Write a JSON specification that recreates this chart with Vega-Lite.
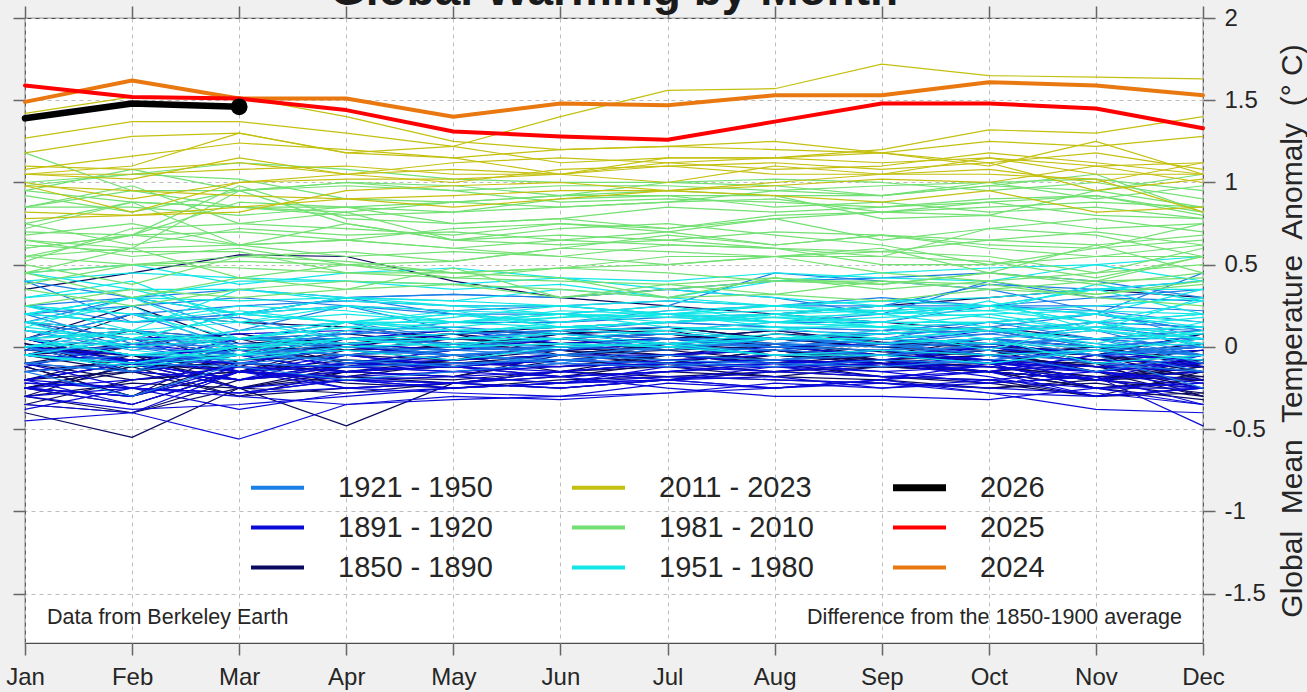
{
"$schema":"https://vega.github.io/schema/vega-lite/v6.json",
"autosize":{"type":"none"},
"padding":{"left":25,"top":18,"right":104,"bottom":49},
"width":1178,"height":625,
"background":"#f0f0f0",
"config":{"view":{"stroke":"#4d4d4d","strokeWidth":1.2,"fill":"#ffffff"},"font":"Liberation Sans"},
"datasets":{"t":[
{"yr":1850,"g":"1850 - 1890","v":[-0.25,-0.12,-0.30,-0.15,-0.18,-0.08,-0.05,-0.02,-0.10,-0.15,-0.20,-0.12]},
{"yr":1851,"g":"1850 - 1890","v":[-0.05,0.02,0.08,-0.02,0.05,0.10,0.00,0.05,0.08,0.12,0.05,0.10]},
{"yr":1852,"g":"1850 - 1890","v":[0.02,-0.08,-0.05,0.05,0.10,0.08,0.12,0.05,0.00,0.02,-0.05,0.08]},
{"yr":1853,"g":"1850 - 1890","v":[0.05,-0.10,-0.15,-0.02,0.00,0.05,0.08,0.02,-0.03,-0.05,-0.12,-0.08]},
{"yr":1854,"g":"1850 - 1890","v":[-0.10,0.00,0.05,0.08,0.02,-0.02,0.05,0.10,0.03,0.00,-0.08,-0.02]},
{"yr":1855,"g":"1850 - 1890","v":[0.00,-0.15,-0.08,0.02,0.05,0.00,-0.02,0.08,0.05,0.00,-0.05,-0.20]},
{"yr":1856,"g":"1850 - 1890","v":[-0.15,-0.08,-0.20,-0.12,-0.05,-0.02,-0.10,-0.08,-0.12,-0.15,-0.20,-0.10]},
{"yr":1857,"g":"1850 - 1890","v":[-0.20,-0.10,-0.25,-0.18,-0.22,-0.15,-0.05,-0.10,-0.18,-0.20,-0.30,-0.15]},
{"yr":1858,"g":"1850 - 1890","v":[-0.12,-0.30,-0.08,-0.05,0.00,-0.02,-0.08,-0.05,-0.10,-0.12,-0.18,-0.15]},
{"yr":1859,"g":"1850 - 1890","v":[0.05,0.10,0.00,-0.05,0.02,0.05,-0.02,0.00,-0.05,0.05,-0.10,-0.15]},
{"yr":1860,"g":"1850 - 1890","v":[-0.05,-0.15,-0.20,-0.10,-0.02,0.00,-0.05,0.02,-0.08,-0.05,0.00,-0.12]},
{"yr":1861,"g":"1850 - 1890","v":[-0.20,-0.05,-0.25,-0.15,-0.18,-0.05,-0.02,-0.08,-0.10,-0.05,-0.12,-0.18]},
{"yr":1862,"g":"1850 - 1890","v":[-0.35,-0.40,-0.25,-0.48,-0.22,-0.18,-0.15,-0.18,-0.12,-0.10,-0.25,-0.32]},
{"yr":1863,"g":"1850 - 1890","v":[0.05,-0.05,-0.15,-0.08,-0.10,-0.05,0.00,-0.05,-0.08,-0.02,-0.05,0.00]},
{"yr":1864,"g":"1850 - 1890","v":[-0.25,-0.12,-0.10,-0.15,-0.08,-0.05,-0.10,-0.02,-0.08,-0.15,-0.20,-0.25]},
{"yr":1865,"g":"1850 - 1890","v":[0.00,-0.10,-0.05,0.05,0.08,0.02,0.05,0.00,0.05,0.02,-0.05,0.08]},
{"yr":1866,"g":"1850 - 1890","v":[0.15,0.05,-0.05,0.02,-0.02,0.08,0.10,0.00,0.02,0.05,0.00,-0.05]},
{"yr":1867,"g":"1850 - 1890","v":[-0.05,0.10,-0.12,0.05,0.00,0.08,0.05,0.10,0.02,0.00,-0.05,-0.15]},
{"yr":1868,"g":"1850 - 1890","v":[-0.30,-0.10,0.05,0.00,0.08,0.10,0.12,0.05,0.02,0.00,-0.02,0.05]},
{"yr":1869,"g":"1850 - 1890","v":[0.05,0.25,0.02,0.05,0.00,-0.02,0.02,0.05,0.00,-0.05,0.00,-0.05]},
{"yr":1870,"g":"1850 - 1890","v":[0.00,-0.15,-0.05,0.05,0.02,0.05,0.08,0.00,-0.02,-0.10,-0.12,-0.25]},
{"yr":1871,"g":"1850 - 1890","v":[-0.25,-0.30,0.00,-0.02,-0.08,-0.05,0.00,-0.02,-0.08,-0.12,-0.18,-0.20]},
{"yr":1872,"g":"1850 - 1890","v":[-0.10,-0.05,-0.15,0.02,0.05,0.05,0.02,0.05,0.00,-0.02,-0.05,-0.12]},
{"yr":1873,"g":"1850 - 1890","v":[0.02,-0.15,0.00,-0.05,-0.08,0.02,0.05,0.00,-0.05,-0.08,-0.10,-0.02]},
{"yr":1874,"g":"1850 - 1890","v":[0.05,-0.10,-0.05,-0.15,-0.12,-0.08,-0.05,-0.10,-0.05,-0.08,-0.20,-0.15]},
{"yr":1875,"g":"1850 - 1890","v":[-0.12,-0.30,-0.15,-0.18,-0.10,-0.08,-0.12,-0.05,-0.10,-0.15,-0.25,-0.20]},
{"yr":1876,"g":"1850 - 1890","v":[-0.02,-0.05,-0.15,-0.10,-0.12,-0.08,-0.05,-0.10,-0.08,-0.02,-0.15,-0.30]},
{"yr":1877,"g":"1850 - 1890","v":[-0.05,0.00,0.05,0.02,0.08,0.12,0.15,0.20,0.25,0.30,0.35,0.30]},
{"yr":1878,"g":"1850 - 1890","v":[0.35,0.45,0.56,0.55,0.40,0.30,0.25,0.20,0.15,0.10,0.00,-0.10]},
{"yr":1879,"g":"1850 - 1890","v":[-0.05,-0.10,-0.02,0.00,-0.05,-0.02,0.00,0.02,-0.05,-0.02,-0.10,-0.30]},
{"yr":1880,"g":"1850 - 1890","v":[0.00,-0.05,-0.02,-0.08,-0.10,-0.12,-0.05,-0.02,-0.10,-0.15,-0.25,-0.20]},
{"yr":1881,"g":"1850 - 1890","v":[-0.25,-0.15,0.00,0.05,0.08,-0.05,0.02,-0.02,-0.10,-0.12,-0.20,-0.08]},
{"yr":1882,"g":"1850 - 1890","v":[0.15,0.10,0.05,-0.10,-0.05,-0.15,-0.10,-0.02,-0.05,-0.08,-0.15,-0.20]},
{"yr":1883,"g":"1850 - 1890","v":[-0.25,-0.35,-0.15,-0.12,-0.08,-0.02,-0.05,-0.08,-0.12,-0.15,-0.20,-0.18]},
{"yr":1884,"g":"1850 - 1890","v":[-0.20,-0.15,-0.30,-0.25,-0.22,-0.25,-0.20,-0.15,-0.18,-0.22,-0.30,-0.28]},
{"yr":1885,"g":"1850 - 1890","v":[-0.35,-0.20,-0.15,-0.22,-0.25,-0.20,-0.18,-0.15,-0.12,-0.15,-0.10,-0.05]},
{"yr":1886,"g":"1850 - 1890","v":[-0.30,-0.40,-0.20,-0.15,-0.12,-0.18,-0.10,-0.15,-0.10,-0.15,-0.20,-0.12]},
{"yr":1887,"g":"1850 - 1890","v":[-0.40,-0.55,-0.25,-0.28,-0.22,-0.15,-0.18,-0.20,-0.22,-0.25,-0.20,-0.28]},
{"yr":1888,"g":"1850 - 1890","v":[-0.30,-0.22,-0.25,-0.12,-0.10,-0.08,-0.05,-0.08,-0.02,0.00,-0.05,0.02]},
{"yr":1889,"g":"1850 - 1890","v":[-0.02,0.20,0.15,0.12,0.05,0.02,0.00,-0.02,-0.05,-0.08,-0.12,-0.15]},
{"yr":1890,"g":"1850 - 1890","v":[-0.10,-0.20,-0.15,-0.18,-0.20,-0.15,-0.12,-0.18,-0.20,-0.25,-0.22,-0.30]},
{"yr":1891,"g":"1891 - 1920","v":[-0.25,-0.30,-0.12,-0.15,-0.10,-0.12,-0.08,-0.05,-0.02,-0.08,-0.20,-0.05]},
{"yr":1892,"g":"1891 - 1920","v":[-0.20,-0.10,-0.25,-0.20,-0.18,-0.15,-0.20,-0.12,-0.10,-0.18,-0.30,-0.25]},
{"yr":1893,"g":"1891 - 1920","v":[-0.45,-0.40,-0.15,-0.20,-0.22,-0.15,-0.10,-0.12,-0.15,-0.12,-0.15,-0.25]},
{"yr":1894,"g":"1891 - 1920","v":[-0.20,-0.10,-0.05,-0.15,-0.12,-0.18,-0.15,-0.10,-0.12,-0.08,-0.15,-0.10]},
{"yr":1895,"g":"1891 - 1920","v":[-0.25,-0.30,-0.15,-0.10,-0.08,-0.05,-0.05,0.00,0.02,-0.05,-0.08,-0.10]},
{"yr":1896,"g":"1891 - 1920","v":[-0.05,-0.08,-0.15,-0.10,-0.02,0.05,0.08,0.05,0.02,0.05,0.00,0.05]},
{"yr":1897,"g":"1891 - 1920","v":[-0.02,0.00,-0.05,0.05,0.10,0.02,0.05,0.00,0.05,0.02,-0.05,-0.08]},
{"yr":1898,"g":"1891 - 1920","v":[0.05,-0.10,-0.20,-0.10,-0.12,-0.08,-0.05,-0.10,-0.08,-0.15,-0.20,-0.15]},
{"yr":1899,"g":"1891 - 1920","v":[-0.10,-0.25,-0.10,0.00,-0.05,-0.02,0.02,0.05,0.08,0.10,0.15,0.00]},
{"yr":1900,"g":"1891 - 1920","v":[-0.05,0.05,0.08,0.10,0.05,0.08,0.02,0.05,0.02,0.10,0.05,0.00]},
{"yr":1901,"g":"1891 - 1920","v":[0.00,-0.10,0.05,0.02,-0.02,0.00,0.02,-0.05,-0.02,-0.08,-0.12,-0.10]},
{"yr":1902,"g":"1891 - 1920","v":[0.05,-0.05,-0.10,-0.12,-0.15,-0.10,-0.12,-0.15,-0.10,-0.12,-0.20,-0.25]},
{"yr":1903,"g":"1891 - 1920","v":[-0.05,0.05,-0.15,-0.20,-0.22,-0.25,-0.20,-0.25,-0.22,-0.25,-0.28,-0.35]},
{"yr":1904,"g":"1891 - 1920","v":[-0.30,-0.25,-0.28,-0.25,-0.22,-0.25,-0.20,-0.18,-0.25,-0.20,-0.15,-0.22]},
{"yr":1905,"g":"1891 - 1920","v":[-0.20,-0.35,-0.15,-0.18,-0.15,-0.12,-0.10,-0.08,-0.10,-0.15,-0.05,-0.02]},
{"yr":1906,"g":"1891 - 1920","v":[-0.10,-0.15,-0.20,-0.05,-0.12,-0.08,-0.10,-0.08,-0.12,-0.05,-0.15,-0.05]},
{"yr":1907,"g":"1891 - 1920","v":[-0.25,-0.35,-0.15,-0.25,-0.28,-0.30,-0.22,-0.25,-0.20,-0.15,-0.30,-0.25]},
{"yr":1908,"g":"1891 - 1920","v":[-0.20,-0.25,-0.38,-0.28,-0.25,-0.22,-0.20,-0.25,-0.20,-0.28,-0.30,-0.25]},
{"yr":1909,"g":"1891 - 1920","v":[-0.38,-0.25,-0.30,-0.35,-0.30,-0.32,-0.28,-0.22,-0.25,-0.22,-0.18,-0.35]},
{"yr":1910,"g":"1891 - 1920","v":[-0.22,-0.25,-0.28,-0.20,-0.25,-0.22,-0.18,-0.20,-0.22,-0.28,-0.38,-0.40]},
{"yr":1911,"g":"1891 - 1920","v":[-0.35,-0.40,-0.56,-0.35,-0.32,-0.30,-0.28,-0.25,-0.20,-0.10,-0.12,-0.15]},
{"yr":1912,"g":"1891 - 1920","v":[-0.15,-0.10,-0.20,-0.12,-0.15,-0.18,-0.25,-0.30,-0.30,-0.32,-0.25,-0.25]},
{"yr":1913,"g":"1891 - 1920","v":[-0.22,-0.25,-0.28,-0.20,-0.25,-0.22,-0.20,-0.15,-0.18,-0.15,-0.05,-0.02]},
{"yr":1914,"g":"1891 - 1920","v":[0.00,-0.08,-0.10,-0.12,-0.05,-0.08,-0.05,-0.02,-0.05,0.00,-0.05,0.00]},
{"yr":1915,"g":"1891 - 1920","v":[-0.12,0.02,-0.05,0.05,0.00,-0.02,0.05,0.00,-0.05,-0.08,-0.02,-0.10]},
{"yr":1916,"g":"1891 - 1920","v":[-0.05,-0.10,-0.20,-0.15,-0.18,-0.22,-0.15,-0.12,-0.18,-0.20,-0.25,-0.35]},
{"yr":1917,"g":"1891 - 1920","v":[-0.30,-0.38,-0.35,-0.30,-0.25,-0.22,-0.12,-0.10,-0.15,-0.22,-0.18,-0.48]},
{"yr":1918,"g":"1891 - 1920","v":[-0.25,-0.20,-0.12,-0.25,-0.22,-0.18,-0.15,-0.10,-0.08,0.00,-0.10,-0.12]},
{"yr":1919,"g":"1891 - 1920","v":[-0.05,-0.08,-0.15,-0.05,-0.12,-0.15,-0.10,-0.12,-0.08,-0.10,-0.25,-0.22]},
{"yr":1920,"g":"1891 - 1920","v":[0.00,-0.05,-0.02,-0.12,-0.10,-0.08,-0.10,-0.08,-0.05,-0.10,-0.15,-0.20]},
{"yr":1921,"g":"1921 - 1950","v":[0.05,-0.05,-0.08,-0.02,-0.05,-0.10,0.00,-0.05,-0.02,0.05,-0.02,0.00]},
{"yr":1922,"g":"1921 - 1950","v":[-0.10,-0.15,-0.05,-0.08,-0.12,-0.05,-0.08,-0.10,-0.12,-0.08,-0.02,-0.05]},
{"yr":1923,"g":"1921 - 1950","v":[-0.05,-0.10,-0.12,-0.20,-0.15,-0.10,-0.12,-0.08,-0.05,0.02,0.05,0.05]},
{"yr":1924,"g":"1921 - 1950","v":[0.00,-0.10,-0.02,-0.10,-0.05,-0.08,-0.10,-0.12,-0.08,-0.10,-0.02,-0.15]},
{"yr":1925,"g":"1921 - 1950","v":[-0.10,-0.05,0.00,0.02,-0.05,0.00,-0.02,0.05,0.02,0.08,0.15,0.12]},
{"yr":1926,"g":"1921 - 1950","v":[0.20,0.15,0.18,0.05,0.00,0.02,0.00,0.05,0.02,0.05,0.10,-0.05]},
{"yr":1927,"g":"1921 - 1950","v":[-0.02,0.00,-0.10,-0.05,-0.02,0.00,0.02,0.00,0.05,0.10,0.05,-0.10]},
{"yr":1928,"g":"1921 - 1950","v":[0.15,0.05,-0.05,-0.02,-0.05,-0.02,0.05,0.02,0.00,0.02,0.05,0.00]},
{"yr":1929,"g":"1921 - 1950","v":[-0.15,-0.30,-0.10,-0.12,-0.10,-0.08,-0.05,-0.08,-0.02,0.00,-0.05,-0.25]},
{"yr":1930,"g":"1921 - 1950","v":[-0.05,0.05,0.02,0.00,0.02,0.05,0.08,0.05,0.10,0.12,0.20,0.10]},
{"yr":1931,"g":"1921 - 1950","v":[0.10,0.00,0.05,0.02,0.05,0.10,0.15,0.12,0.10,0.15,0.05,0.10]},
{"yr":1932,"g":"1921 - 1950","v":[0.20,0.02,0.00,0.05,0.02,0.00,0.05,0.02,0.08,0.10,0.00,0.05]},
{"yr":1933,"g":"1921 - 1950","v":[-0.05,-0.10,-0.05,0.00,-0.02,-0.05,0.00,-0.02,-0.05,-0.02,-0.10,-0.15]},
{"yr":1934,"g":"1921 - 1950","v":[0.00,0.10,-0.05,0.02,0.05,0.10,0.08,0.05,0.02,0.05,0.12,0.05]},
{"yr":1935,"g":"1921 - 1950","v":[0.05,0.20,0.00,-0.05,-0.02,0.00,0.02,0.00,-0.02,0.05,-0.05,0.00]},
{"yr":1936,"g":"1921 - 1950","v":[0.00,-0.15,0.05,0.05,0.08,0.10,0.12,0.10,0.08,0.10,0.12,0.10]},
{"yr":1937,"g":"1921 - 1950","v":[0.05,0.10,0.00,0.08,0.15,0.15,0.18,0.20,0.25,0.25,0.22,0.15]},
{"yr":1938,"g":"1921 - 1950","v":[0.20,0.25,0.30,0.25,0.10,0.05,0.10,0.15,0.15,0.25,0.20,0.10]},
{"yr":1939,"g":"1921 - 1950","v":[0.10,0.05,0.05,0.08,0.10,0.12,0.15,0.12,0.10,0.15,0.20,0.45]},
{"yr":1940,"g":"1921 - 1950","v":[0.05,0.20,0.25,0.28,0.25,0.25,0.28,0.25,0.30,0.25,0.30,0.35]},
{"yr":1941,"g":"1921 - 1950","v":[0.25,0.30,0.20,0.30,0.32,0.30,0.35,0.30,0.20,0.40,0.30,0.28]},
{"yr":1942,"g":"1921 - 1950","v":[0.40,0.15,0.20,0.25,0.22,0.25,0.20,0.15,0.20,0.25,0.25,0.22]},
{"yr":1943,"g":"1921 - 1950","v":[0.15,0.30,0.10,0.25,0.20,0.15,0.22,0.25,0.25,0.38,0.35,0.40]},
{"yr":1944,"g":"1921 - 1950","v":[0.40,0.30,0.35,0.30,0.32,0.30,0.35,0.40,0.42,0.45,0.40,0.30]},
{"yr":1945,"g":"1921 - 1950","v":[0.25,0.15,0.20,0.30,0.20,0.20,0.25,0.45,0.40,0.35,0.22,0.05]},
{"yr":1946,"g":"1921 - 1950","v":[0.15,0.10,0.05,0.15,0.00,-0.02,0.05,0.00,0.05,0.02,0.05,-0.05]},
{"yr":1947,"g":"1921 - 1950","v":[0.05,0.00,0.10,0.15,0.05,0.10,0.08,0.05,0.05,0.15,0.10,0.02]},
{"yr":1948,"g":"1921 - 1950","v":[0.15,0.00,-0.05,0.10,0.12,0.08,0.05,0.05,0.05,0.08,0.02,-0.05]},
{"yr":1949,"g":"1921 - 1950","v":[0.10,-0.02,0.05,0.05,0.02,-0.05,0.00,0.02,0.00,0.05,0.00,-0.05]},
{"yr":1950,"g":"1921 - 1950","v":[-0.15,-0.10,0.00,-0.05,0.00,0.05,0.00,-0.02,0.02,-0.05,-0.15,-0.05]},
{"yr":1951,"g":"1951 - 1980","v":[-0.05,-0.10,0.00,0.10,0.15,0.12,0.15,0.20,0.25,0.22,0.15,0.28]},
{"yr":1952,"g":"1951 - 1980","v":[0.25,0.20,0.05,0.15,0.10,0.12,0.15,0.18,0.20,0.12,0.02,0.15]},
{"yr":1953,"g":"1951 - 1980","v":[0.20,0.30,0.28,0.30,0.25,0.25,0.20,0.22,0.22,0.25,0.15,0.20]},
{"yr":1954,"g":"1951 - 1980","v":[0.00,0.10,0.00,0.05,0.00,0.02,0.00,0.05,0.05,0.10,0.15,0.00]},
{"yr":1955,"g":"1951 - 1980","v":[0.15,-0.02,-0.08,0.00,0.02,0.05,0.02,0.08,0.02,0.05,-0.10,-0.05]},
{"yr":1956,"g":"1951 - 1980","v":[-0.05,-0.12,-0.05,-0.02,-0.08,0.00,0.02,-0.05,-0.02,-0.05,-0.02,0.05]},
{"yr":1957,"g":"1951 - 1980","v":[0.05,0.08,0.05,0.12,0.18,0.25,0.20,0.25,0.20,0.22,0.25,0.30]},
{"yr":1958,"g":"1951 - 1980","v":[0.45,0.35,0.20,0.15,0.20,0.15,0.20,0.15,0.12,0.15,0.20,0.15]},
{"yr":1959,"g":"1951 - 1980","v":[0.20,0.15,0.25,0.22,0.15,0.18,0.20,0.18,0.12,0.10,0.12,0.18]},
{"yr":1960,"g":"1951 - 1980","v":[0.15,0.25,-0.05,0.15,0.15,0.20,0.15,0.20,0.22,0.18,0.10,0.30]},
{"yr":1961,"g":"1951 - 1980","v":[0.20,0.30,0.20,0.25,0.22,0.20,0.18,0.20,0.15,0.15,0.20,0.12]},
{"yr":1962,"g":"1951 - 1980","v":[0.25,0.20,0.15,0.20,0.15,0.20,0.18,0.15,0.18,0.20,0.22,0.20]},
{"yr":1963,"g":"1951 - 1980","v":[0.12,0.30,0.05,0.15,0.12,0.18,0.22,0.25,0.28,0.30,0.35,0.20]},
{"yr":1964,"g":"1951 - 1980","v":[0.15,0.10,-0.02,0.05,0.00,0.02,0.00,-0.05,-0.05,-0.10,-0.02,-0.08]},
{"yr":1965,"g":"1951 - 1980","v":[0.10,0.00,0.05,0.02,0.05,0.08,0.02,0.05,0.08,0.12,0.00,0.10]},
{"yr":1966,"g":"1951 - 1980","v":[0.05,0.10,0.15,0.05,0.08,0.15,0.20,0.12,0.12,0.10,0.05,0.08]},
{"yr":1967,"g":"1951 - 1980","v":[0.12,0.05,0.20,0.15,0.22,0.12,0.15,0.18,0.15,0.28,0.10,0.12]},
{"yr":1968,"g":"1951 - 1980","v":[-0.05,0.05,0.20,0.15,0.10,0.12,0.10,0.15,0.12,0.20,0.10,0.05]},
{"yr":1969,"g":"1951 - 1980","v":[0.10,0.05,0.20,0.30,0.28,0.25,0.28,0.25,0.28,0.25,0.35,0.40]},
{"yr":1970,"g":"1951 - 1980","v":[0.30,0.40,0.15,0.25,0.15,0.20,0.12,0.10,0.15,0.15,0.10,0.02]},
{"yr":1971,"g":"1951 - 1980","v":[0.05,-0.05,0.00,0.05,0.05,0.05,0.10,0.12,0.05,0.10,0.12,0.08]},
{"yr":1972,"g":"1951 - 1980","v":[0.00,0.02,0.10,0.15,0.15,0.22,0.20,0.25,0.20,0.25,0.20,0.35]},
{"yr":1973,"g":"1951 - 1980","v":[0.40,0.45,0.42,0.40,0.35,0.38,0.30,0.25,0.22,0.25,0.15,0.05]},
{"yr":1974,"g":"1951 - 1980","v":[0.00,0.05,0.05,0.12,0.10,0.12,0.15,0.20,0.12,0.05,0.10,0.05]},
{"yr":1975,"g":"1951 - 1980","v":[0.20,0.15,0.22,0.15,0.20,0.12,0.10,0.05,0.05,0.02,0.00,0.02]},
{"yr":1976,"g":"1951 - 1980","v":[0.05,-0.05,-0.05,0.05,0.00,0.10,0.08,0.05,0.10,-0.02,0.15,0.20]},
{"yr":1977,"g":"1951 - 1980","v":[0.20,0.30,0.40,0.40,0.38,0.42,0.35,0.30,0.25,0.22,0.38,0.28]},
{"yr":1978,"g":"1951 - 1980","v":[0.30,0.35,0.35,0.28,0.25,0.20,0.25,0.15,0.22,0.25,0.35,0.35]},
{"yr":1979,"g":"1951 - 1980","v":[0.25,0.10,0.35,0.30,0.28,0.35,0.30,0.40,0.45,0.48,0.50,0.55]},
{"yr":1980,"g":"1951 - 1980","v":[0.45,0.50,0.38,0.45,0.48,0.42,0.40,0.45,0.42,0.40,0.50,0.40]},
{"yr":1981,"g":"1981 - 2010","v":[0.65,0.55,0.60,0.50,0.42,0.48,0.50,0.55,0.45,0.40,0.45,0.60]},
{"yr":1982,"g":"1981 - 2010","v":[0.25,0.35,0.30,0.35,0.38,0.30,0.38,0.32,0.40,0.35,0.40,0.55]},
{"yr":1983,"g":"1981 - 2010","v":[0.65,0.60,0.62,0.55,0.58,0.55,0.50,0.55,0.60,0.45,0.62,0.45]},
{"yr":1984,"g":"1981 - 2010","v":[0.45,0.30,0.42,0.35,0.48,0.30,0.35,0.40,0.40,0.38,0.30,0.25]},
{"yr":1985,"g":"1981 - 2010","v":[0.35,0.25,0.35,0.40,0.38,0.35,0.30,0.42,0.35,0.40,0.32,0.38]},
{"yr":1986,"g":"1981 - 2010","v":[0.45,0.50,0.48,0.45,0.42,0.40,0.38,0.42,0.38,0.45,0.40,0.42]},
{"yr":1987,"g":"1981 - 2010","v":[0.45,0.60,0.42,0.50,0.52,0.60,0.68,0.62,0.68,0.62,0.60,0.75]},
{"yr":1988,"g":"1981 - 2010","v":[0.75,0.62,0.72,0.68,0.70,0.65,0.62,0.60,0.58,0.55,0.45,0.50]},
{"yr":1989,"g":"1981 - 2010","v":[0.38,0.50,0.55,0.52,0.45,0.48,0.55,0.55,0.55,0.52,0.42,0.55]},
{"yr":1990,"g":"1981 - 2010","v":[0.55,0.60,0.95,0.75,0.65,0.62,0.65,0.60,0.55,0.72,0.78,0.70]},
{"yr":1991,"g":"1981 - 2010","v":[0.68,0.75,0.62,0.75,0.65,0.72,0.75,0.68,0.62,0.50,0.55,0.62]},
{"yr":1992,"g":"1981 - 2010","v":[0.62,0.58,0.58,0.45,0.45,0.42,0.30,0.32,0.28,0.35,0.32,0.40]},
{"yr":1993,"g":"1981 - 2010","v":[0.55,0.50,0.52,0.50,0.45,0.48,0.45,0.40,0.38,0.45,0.38,0.45]},
{"yr":1994,"g":"1981 - 2010","v":[0.50,0.38,0.55,0.58,0.52,0.60,0.58,0.55,0.58,0.65,0.70,0.62]},
{"yr":1995,"g":"1981 - 2010","v":[0.85,0.98,0.75,0.72,0.68,0.75,0.72,0.78,0.65,0.72,0.68,0.55]},
{"yr":1996,"g":"1981 - 2010","v":[0.55,0.68,0.62,0.65,0.60,0.55,0.62,0.60,0.50,0.50,0.60,0.65]},
{"yr":1997,"g":"1981 - 2010","v":[0.60,0.68,0.70,0.65,0.72,0.75,0.70,0.78,0.82,0.85,0.88,0.85]},
{"yr":1998,"g":"1981 - 2010","v":[0.95,1.08,0.95,1.00,0.98,0.92,0.95,0.92,0.78,0.80,0.72,0.75]},
{"yr":1999,"g":"1981 - 2010","v":[0.72,0.88,0.62,0.65,0.60,0.65,0.70,0.62,0.68,0.65,0.62,0.68]},
{"yr":2000,"g":"1981 - 2010","v":[0.52,0.72,0.75,0.82,0.65,0.68,0.65,0.70,0.68,0.60,0.55,0.55]},
{"yr":2001,"g":"1981 - 2010","v":[0.70,0.68,0.88,0.85,0.82,0.85,0.88,0.90,0.82,0.80,0.95,0.85]},
{"yr":2002,"g":"1981 - 2010","v":[0.98,1.05,1.02,0.90,0.88,0.92,0.92,0.85,0.88,0.82,0.85,0.78]},
{"yr":2003,"g":"1981 - 2010","v":[0.95,0.88,0.85,0.82,0.88,0.85,0.88,0.95,0.92,1.00,0.90,0.98]},
{"yr":2004,"g":"1981 - 2010","v":[0.85,0.95,0.85,0.85,0.75,0.78,0.72,0.80,0.82,0.88,0.92,0.80]},
{"yr":2005,"g":"1981 - 2010","v":[0.92,0.82,0.95,0.98,0.95,0.98,0.98,0.95,0.98,1.00,1.02,0.95]},
{"yr":2006,"g":"1981 - 2010","v":[0.75,0.88,0.85,0.80,0.82,0.90,0.92,0.92,0.92,0.98,0.95,1.05]},
{"yr":2007,"g":"1981 - 2010","v":[1.18,0.95,0.95,1.00,0.95,0.88,0.90,0.88,0.85,0.88,0.80,0.78]},
{"yr":2008,"g":"1981 - 2010","v":[0.60,0.68,0.98,0.78,0.75,0.78,0.85,0.82,0.85,0.90,0.92,0.82]},
{"yr":2009,"g":"1981 - 2010","v":[0.85,0.85,0.80,0.85,0.88,0.92,1.00,1.02,1.00,0.95,1.00,0.90]},
{"yr":2010,"g":"1981 - 2010","v":[1.00,1.05,1.12,1.08,1.02,1.00,1.00,0.98,0.92,0.98,1.05,0.82]},
{"yr":2011,"g":"2011 - 2023","v":[0.82,0.80,0.85,0.90,0.85,0.90,0.95,0.92,0.88,0.95,0.82,0.85]},
{"yr":2012,"g":"2011 - 2023","v":[0.78,0.80,0.82,0.95,0.98,1.00,0.95,1.00,1.05,1.05,1.02,0.82]},
{"yr":2013,"g":"2011 - 2023","v":[0.98,0.95,0.92,0.90,0.92,0.95,0.95,0.98,1.02,1.00,1.10,1.00]},
{"yr":2014,"g":"2011 - 2023","v":[0.98,0.82,1.00,1.05,1.08,1.05,1.00,1.10,1.05,1.08,1.00,1.12]},
{"yr":2015,"g":"2011 - 2023","v":[1.10,1.08,1.12,1.05,1.12,1.15,1.12,1.15,1.20,1.32,1.30,1.40]},
{"yr":2016,"g":"2011 - 2023","v":[1.42,1.52,1.52,1.40,1.25,1.20,1.22,1.25,1.18,1.12,1.18,1.08]},
{"yr":2017,"g":"2011 - 2023","v":[1.18,1.28,1.30,1.18,1.15,1.05,1.15,1.15,1.12,1.15,1.10,1.12]},
{"yr":2018,"g":"2011 - 2023","v":[1.05,1.05,1.08,1.10,1.05,1.05,1.10,1.05,1.05,1.15,1.05,1.05]},
{"yr":2019,"g":"2011 - 2023","v":[1.08,1.16,1.24,1.20,1.15,1.20,1.22,1.20,1.18,1.25,1.22,1.28]},
{"yr":2020,"g":"2011 - 2023","v":[1.27,1.37,1.37,1.30,1.22,1.12,1.15,1.15,1.18,1.10,1.25,1.05]},
{"yr":2021,"g":"2011 - 2023","v":[1.00,0.90,1.00,1.02,1.02,1.05,1.12,1.08,1.10,1.18,1.12,1.05]},
{"yr":2022,"g":"2011 - 2023","v":[1.05,1.02,1.15,1.05,1.00,1.08,1.10,1.12,1.08,1.12,0.95,1.02]},
{"yr":2023,"g":"2011 - 2023","v":[1.05,1.10,1.30,1.18,1.22,1.40,1.56,1.57,1.72,1.65,1.64,1.63]},
{"yr":2024,"g":"2024","v":[1.49,1.62,1.51,1.51,1.40,1.48,1.47,1.53,1.53,1.61,1.59,1.53]},
{"yr":2025,"g":"2025","v":[1.59,1.52,1.51,1.44,1.31,1.28,1.26,1.37,1.48,1.48,1.45,1.33]},
{"yr":2026,"g":"2026","v":[1.39,1.48,1.46]}
]},
"data":{"name":"t"},
"transform":[
{"flatten":["v"],"as":["val"]},
{"window":[{"op":"row_number","as":"mi"}],"groupby":["yr"]}
],
"resolve":{"axis":{"x":"independent","y":"independent"}},
"layer":[
{"transform":[{"filter":{"field":"yr","lte":2023}}],
 "mark":{"type":"line","strokeJoin":"round","strokeCap":"round","strokeWidth":1.2},
 "encoding":{
  "x":{"field":"mi","type":"quantitative","scale":{"domain":[1,12],"nice":false,"zero":false},
   "axis":{"orient":"bottom","values":[1,2,3,4,5,6,7,8,9,10,11,12],"labelExpr":"['Jan','Feb','Mar','Apr','May','Jun','Jul','Aug','Sep','Oct','Nov','Dec'][datum.value-1]","title":null,"domain":false,"grid":true,"gridColor":"#bdbdbd","gridDash":[4,4],"gridWidth":1,"ticks":true,"tickSize":12,"tickColor":"#666666","tickWidth":1.5,"labelFontSize":24,"labelFont":"Liberation Sans","labelColor":"#262626","labelPadding":10,"labelFlush":false}},
  "y":{"field":"val","type":"quantitative","scale":{"domain":[-1.8,2],"nice":false,"zero":false},
   "axis":{"orient":"right","values":[-1.5,-1,-0.5,0,0.5,1,1.5,2],"labelExpr":"'' + datum.value","title":"Global\u00a0 Mean\u00a0 Temperature\u00a0 Anomaly\u00a0 (°\u00a0C)","titleFontSize":30,"titleFont":"Liberation Sans","titleFontWeight":"normal","titleColor":"#262626","titleAngle":270,"titleBaseline":"top","titlePadding":12,"domain":false,"grid":true,"gridColor":"#bdbdbd","gridDash":[4,4],"gridWidth":1,"ticks":true,"tickSize":12,"tickColor":"#666666","tickWidth":1.5,"labelFontSize":24,"labelFont":"Liberation Sans","labelColor":"#262626","labelPadding":9,"labelFlush":false}},
  "color":{"field":"g","type":"nominal",
   "scale":{"domain":["1921 - 1950","1891 - 1920","1850 - 1890","2011 - 2023","1981 - 2010","1951 - 1980","2026","2025","2024"],
            "range":["#1a7fe6","#0a0ad8","#0a0a5e","#c4c010","#72e072","#12e6e6","#000000","#ff0000","#e8780f"]},
   "legend":{"title":null,"orient":"none","legendX":238,"legendY":455,"columns":3,"gridAlign":"all","columnPadding":65,"rowPadding":10,"symbolType":"stroke","symbolSize":2809,"symbolStrokeWidth":4,"labelFontSize":29,"labelFont":"Liberation Sans","labelColor":"#262626","labelOffset":46,"padding":0,"labelLimit":400,
     "encode":{"symbols":{"update":{"strokeWidth":{"signal":"datum.value === '2026' ? 7 : 4"}}}}}},
  "detail":{"field":"yr","type":"nominal"}
 }},
{"transform":[{"filter":{"field":"yr","oneOf":[2024,2025]}}],
 "mark":{"type":"line","strokeJoin":"round","strokeCap":"round","strokeWidth":4},
 "encoding":{"x":{"field":"mi","type":"quantitative","axis":null},"y":{"field":"val","type":"quantitative","axis":null},
  "color":{"field":"g","type":"nominal"},"detail":{"field":"yr","type":"nominal"}}},
{"transform":[{"filter":{"field":"yr","equal":2026}}],
 "mark":{"type":"line","strokeJoin":"round","strokeCap":"round","strokeWidth":6.5},
 "encoding":{"x":{"field":"mi","type":"quantitative","axis":null},"y":{"field":"val","type":"quantitative","axis":null},
  "color":{"field":"g","type":"nominal"}}},
{"transform":[{"filter":{"and":[{"field":"yr","equal":2026},{"field":"mi","equal":3}]}}],
 "mark":{"type":"point","filled":true,"color":"#000000","size":283,"opacity":1},
 "encoding":{"x":{"field":"mi","type":"quantitative","axis":null},"y":{"field":"val","type":"quantitative","axis":null}}},
{"data":{"values":[{"mi":1,"val":-1.646,"t":"Data from Berkeley Earth"}]},
 "mark":{"type":"text","align":"left","baseline":"middle","dx":22,"fontSize":21.5,"font":"Liberation Sans","color":"#262626"},
 "encoding":{
  "x":{"field":"mi","type":"quantitative","axis":{"orient":"top","values":[1,2,3,4,5,6,7,8,9,10,11,12],"labels":false,"grid":false,"domain":false,"ticks":true,"tickSize":12,"tickColor":"#666666","tickWidth":1.5,"title":null}},
  "y":{"field":"val","type":"quantitative","axis":{"orient":"left","values":[-1.5,-1,-0.5,0,0.5,1,1.5,2],"labels":false,"grid":false,"domain":false,"ticks":true,"tickSize":12,"tickColor":"#666666","tickWidth":1.5,"title":null}},
  "text":{"field":"t"}}},
{"data":{"values":[{"mi":12,"val":-1.646,"t":"Difference from the 1850-1900 average"}]},
 "mark":{"type":"text","align":"right","baseline":"middle","dx":-21,"fontSize":21.5,"font":"Liberation Sans","color":"#262626"},
 "encoding":{
  "x":{"field":"mi","type":"quantitative","axis":null},
  "y":{"field":"val","type":"quantitative","axis":null},
  "text":{"field":"t"}}},
{"data":{"values":[{"mi":6.5,"val":2,"t":"Global Warming by Month"}]},
 "mark":{"type":"text","align":"center","baseline":"alphabetic","dy":-13,"fontSize":46,"fontWeight":"bold","font":"Liberation Sans","color":"#1a1a1a"},
 "encoding":{
  "x":{"field":"mi","type":"quantitative","axis":null},
  "y":{"field":"val","type":"quantitative","axis":null},
  "text":{"field":"t"}}}
]
}
